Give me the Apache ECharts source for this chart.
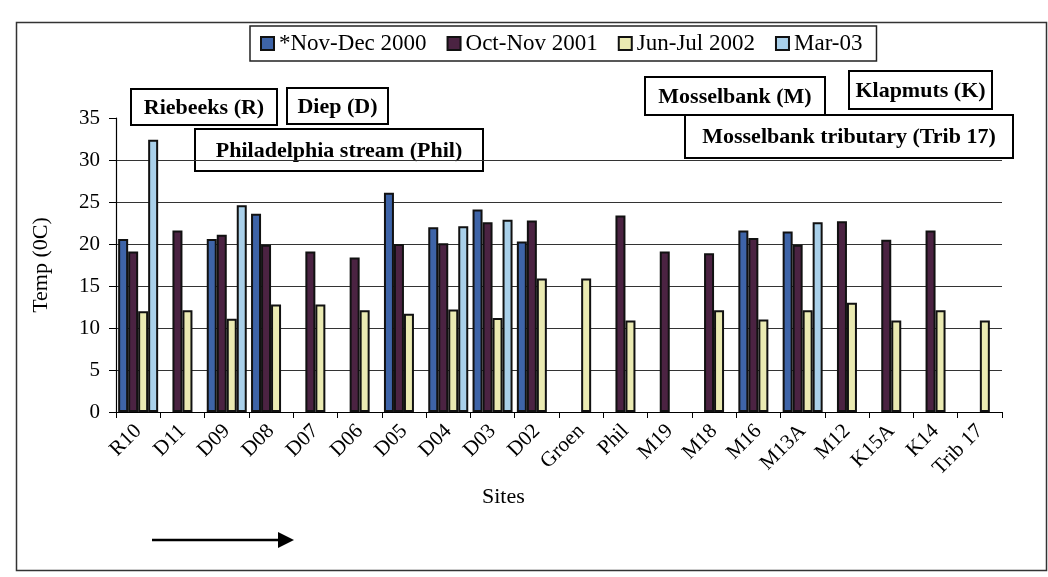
<!DOCTYPE html>
<html>
<head>
<meta charset="utf-8">
<script src="https://cdn.jsdelivr.net/npm/echarts@6/dist/echarts.min.js"></script>
<style>
  html, body { margin: 0; padding: 0; background: #fff; }
  #grafico { width: 1048px; height: 577px; }
</style>
</head>
<body>
<div id="grafico"></div>
<script>
const sites = ['R10', 'D11', 'D09', 'D08', 'D07', 'D06', 'D05', 'D04', 'D03', 'D02',
  'Groen', 'Phil', 'M19', 'M18', 'M16', 'M13A', 'M12', 'K15A', 'K14', 'Trib 17'];

const novDec2000 = [20.6, null, 20.6, 23.6, null, null, 26.1, 22.0, 24.1, 20.3,
  null, null, null, null, 21.6, 21.5, null, null, null, null];
const octNov2001 = [19.1, 21.6, 21.1, 19.9, 19.1, 18.4, 20.0, 20.1, 22.6, 22.8,
  null, 23.4, 19.1, 18.9, 20.7, 19.9, 22.7, 20.5, 21.6, null];
const junJul2002 = [12.0, 12.1, 11.1, 12.8, 12.8, 12.1, 11.7, 12.2, 11.2, 15.9,
  15.9, 10.9, null, 12.1, 11.0, 12.1, 13.0, 10.9, 12.1, 10.9];
const mar03 = [32.4, null, 24.6, null, null, null, null, 22.1, 22.9, null,
  null, null, null, null, null, 22.6, null, null, null, null];

const nomesSeries = ['*Nov-Dec 2000', 'Oct-Nov 2001', 'Jun-Jul 2002', 'Mar-03'];
const cores = ['#3e64a8', '#4b2342', '#eaeab2', '#a9d0ea'];
const yTicks = [0, 5, 10, 15, 20, 25, 30, 35];

const fonte = '"Liberation Serif", "Times New Roman", serif';

// caixa de texto com borda (rótulos dos rios)
function caixa(texto, x, y, w, h) {
  return {
    type: 'group',
    left: x,
    top: y,
    z: 100,
    children: [
      { type: 'rect', shape: { x: 0, y: 0, width: w, height: h },
        style: { fill: '#fff', stroke: '#000', lineWidth: 2 } },
      { type: 'text', x: w / 2, y: h / 2 + 1,
        style: { text: texto, font: 'bold 22px ' + fonte, fill: '#000',
          align: 'center', verticalAlign: 'middle' } }
    ]
  };
}

const chart = echarts.init(document.getElementById('grafico'));

const serie = (nome, dados, cor) => ({
  name: nome,
  type: 'bar',
  data: dados,
  barWidth: 10,
  barGap: '0%',
  itemStyle: { color: cor, borderColor: '#111', borderWidth: 2 }
});

chart.setOption({
  backgroundColor: '#fff',
  animation: false,
  legend: {
    left: 250,
    top: 26,
    padding: [6, 14, 6, 10],
    borderColor: '#222',
    borderWidth: 1.5,
    itemWidth: 13,
    itemHeight: 13,
    itemGap: 20,
    icon: 'rect',
    textStyle: { fontFamily: fonte, fontSize: 23, color: '#000' },
    data: nomesSeries
  },
  grid: { left: 116, right: 46, top: 118, bottom: 165 },
  xAxis: {
    type: 'category',
    data: sites,
    axisLine: { lineStyle: { color: '#000', width: 1.2 } },
    axisTick: { show: true, length: 6, lineStyle: { color: '#000' } },
    axisLabel: { rotate: 45, margin: 16, color: '#000', fontFamily: fonte, fontSize: 21, interval: 0 }
  },
  yAxis: {
    type: 'value',
    min: yTicks[0],
    max: yTicks[yTicks.length - 1],
    interval: 5,
    name: 'Temp (0C)',
    nameLocation: 'middle',
    nameGap: 64,
    nameTextStyle: { fontFamily: fonte, fontSize: 22, color: '#000' },
    axisLine: { show: true, lineStyle: { color: '#000', width: 1.2 } },
    axisTick: { show: true, length: 7, lineStyle: { color: '#000' } },
    axisLabel: { margin: 16, color: '#000', fontFamily: fonte, fontSize: 21 },
    splitLine: { show: true, showMaxLine: false, lineStyle: { color: '#333', width: 1 } }
  },
  series: [
    serie(nomesSeries[0], novDec2000, cores[0]),
    serie(nomesSeries[1], octNov2001, cores[1]),
    serie(nomesSeries[2], junJul2002, cores[2]),
    serie(nomesSeries[3], mar03, cores[3])
  ],
  graphic: [
    { type: 'rect', left: 14, top: 20, z: -10,
      shape: { width: 1030, height: 548 },
      style: { fill: 'none', stroke: '#333', lineWidth: 1.5 } },
    caixa('Riebeeks (R)', 130, 88, 146, 36),
    caixa('Diep (D)', 286, 87, 101, 36),
    caixa('Philadelphia stream (Phil)', 194, 128, 288, 42),
    caixa('Mosselbank (M)', 644, 76, 180, 38),
    caixa('Klapmuts (K)', 848, 70, 143, 38),
    caixa('Mosselbank tributary (Trib 17)', 684, 114, 328, 43),
    { type: 'text', left: 482, top: 486,
      style: { text: 'Sites', font: '22px ' + fonte, fill: '#000' } },
    { type: 'line', shape: { x1: 152, y1: 540, x2: 280, y2: 540 },
      style: { stroke: '#000', lineWidth: 2.5 } },
    { type: 'polygon', shape: { points: [[278, 532], [294, 540], [278, 548]] },
      style: { fill: '#000' } }
  ]
});
</script>
</body>
</html>
